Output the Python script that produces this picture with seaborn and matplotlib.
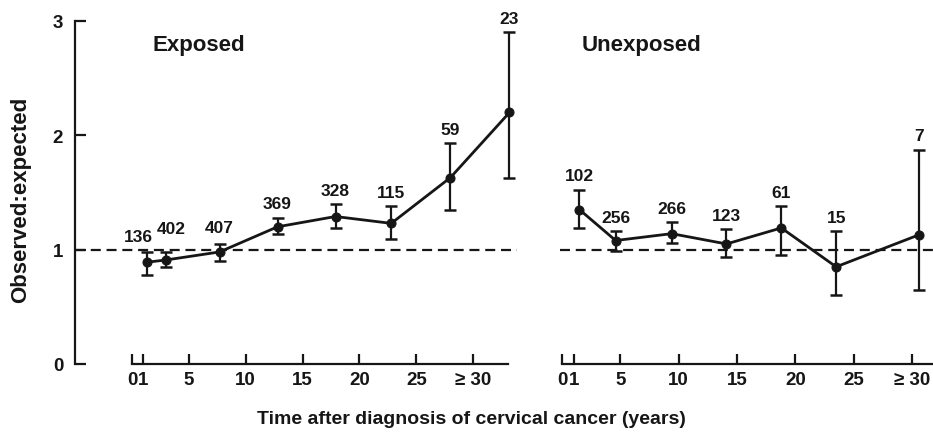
import matplotlib
matplotlib.use("Agg")
import matplotlib.pyplot as plt
import seaborn as sns
import pandas as pd

# ---- data ----
tick_values = [0, 1, 5, 10, 15, 20, 25, 30]
tick_labels = ["0", "1", "5", "10", "15", "20", "25", "\u2265 30"]

exp_x = [1.3, 3.0, 7.7, 12.8, 17.9, 22.8, 28.0, 33.2]
exp_y = [0.89, 0.91, 0.98, 1.20, 1.29, 1.23, 1.63, 2.20]
exp_lo = [0.78, 0.85, 0.90, 1.14, 1.19, 1.09, 1.35, 1.63]
exp_hi = [0.98, 0.98, 1.05, 1.28, 1.40, 1.38, 1.93, 2.90]
exp_n = [136, 402, 407, 369, 328, 115, 59, 23]

unx_x = [1.5, 4.6, 9.4, 14.1, 18.8, 23.5, 30.6]
unx_y = [1.35, 1.08, 1.14, 1.05, 1.19, 0.85, 1.13]
unx_lo = [1.19, 0.99, 1.06, 0.94, 0.95, 0.60, 0.65]
unx_hi = [1.52, 1.16, 1.24, 1.18, 1.38, 1.16, 1.87]
unx_n = [102, 256, 266, 123, 61, 15, 7]

# label nudges (points)
exp_dx = [-6, 4, 0, 0, 0, 0, 0, 0]
exp_dy = [1, 7, 2, 0, 0, 0, 0, 0]
unx_dx = [0, 0, 0, 0, 0, 0, 0]
unx_dy = [1, 0, 0, 0, 0, 0, 1]

sns.set_theme(style="white")
plt.rcParams["font.family"] = ["Liberation Sans", "DejaVu Sans"]
plt.rcParams["font.weight"] = "bold"

INK = "#161616"
W, H = 933, 439
fig = plt.figure(figsize=(W / 100, H / 100), dpi=100)

def frac_x(px):
    return px / W

def frac_y(py):
    return 1 - py / H

ax1 = fig.add_axes([frac_x(75), frac_y(365), (517 - 75) / W, (365 - 22) / H])
ax2 = fig.add_axes([frac_x(560), frac_y(365), (933 - 560) / W, (365 - 22) / H])

panels = [
    (ax1, exp_x, exp_y, exp_lo, exp_hi, exp_n, exp_dx, exp_dy, (-5.01, 33.86), (0, 33.1)),
    (ax2, unx_x, unx_y, unx_lo, unx_hi, unx_n, unx_dx, unx_dy, (-0.17, 31.8), (0, 31.8)),
]

for ax, xs, ys, lo, hi, ns, dxs, dys, xlim, xb in panels:
    df = pd.DataFrame({"t": xs, "oe": ys})
    ax.axhline(1.0, color=INK, lw=1.6, dashes=(4.5, 2.6), zorder=1)
    yerr = [[y - l for y, l in zip(ys, lo)], [h - y for y, h in zip(ys, hi)]]
    ax.errorbar(xs, ys, yerr=yerr, fmt="none", ecolor=INK, elinewidth=1.6,
                capsize=4.0, capthick=1.8, zorder=2)
    sns.lineplot(data=df, x="t", y="oe", ax=ax, color=INK, lw=2.0,
                 marker="o", markersize=6.5, markeredgecolor=INK, zorder=3)
    for x, h, n, dx, dy in zip(xs, hi, ns, dxs, dys):
        ax.annotate(str(n), xy=(x, h), xytext=(dx, 4.5 + dy), textcoords="offset points",
                    ha="center", va="bottom", fontsize=12.5, fontweight="bold",
                    color=INK, annotation_clip=False)
    ax.set_xlim(*xlim)
    ax.set_ylim(0, 3)
    ax.set_xlabel("")
    ax.set_ylabel("")
    ax.set_xticks(tick_values)
    ax.set_xticklabels(tick_labels)
    ax.spines["top"].set_visible(False)
    ax.spines["right"].set_visible(False)
    ax.spines["bottom"].set_bounds(*xb)
    ax.spines["bottom"].set_linewidth(1.6)
    ax.spines["bottom"].set_color(INK)
    ax.tick_params(axis="x", direction="in", length=7, width=1.6, color=INK,
                   pad=5, labelsize=13.5, labelcolor=INK, bottom=True)
    for lab in ax.get_xticklabels():
        lab.set_fontweight("bold")
    ax.set_facecolor("white")
    ax.grid(False)

ax1.spines["left"].set_bounds(0, 3)
ax1.spines["left"].set_linewidth(1.6)
ax1.spines["left"].set_color(INK)
ax1.set_yticks([0, 1, 2, 3])
ax1.set_yticklabels(["0", "1", "2", "3"])
ax1.tick_params(axis="y", direction="in", length=8, width=1.6, color=INK,
                pad=8.5, labelsize=13.5, labelcolor=INK, left=True)
for lab in ax1.get_yticklabels():
    lab.set_fontweight("bold")
ax1.set_ylabel("Observed:expected", fontsize=16, fontweight="bold", color=INK)
ax1.yaxis.set_label_coords(-0.10, 0.48)

ax2.spines["left"].set_visible(False)
ax2.set_yticks([])

fig.text(frac_x(152), frac_y(46), "Exposed", fontsize=16, fontweight="bold",
         color=INK, ha="left", va="center")
fig.text(frac_x(582), frac_y(46), "Unexposed", fontsize=16, fontweight="bold",
         color=INK, ha="left", va="center")
fig.text(frac_x(471), frac_y(420), "Time after diagnosis of cervical cancer (years)",
         fontsize=14, fontweight="bold", color=INK, ha="center", va="center")

fig.savefig("out.png", dpi=100, facecolor="white")
